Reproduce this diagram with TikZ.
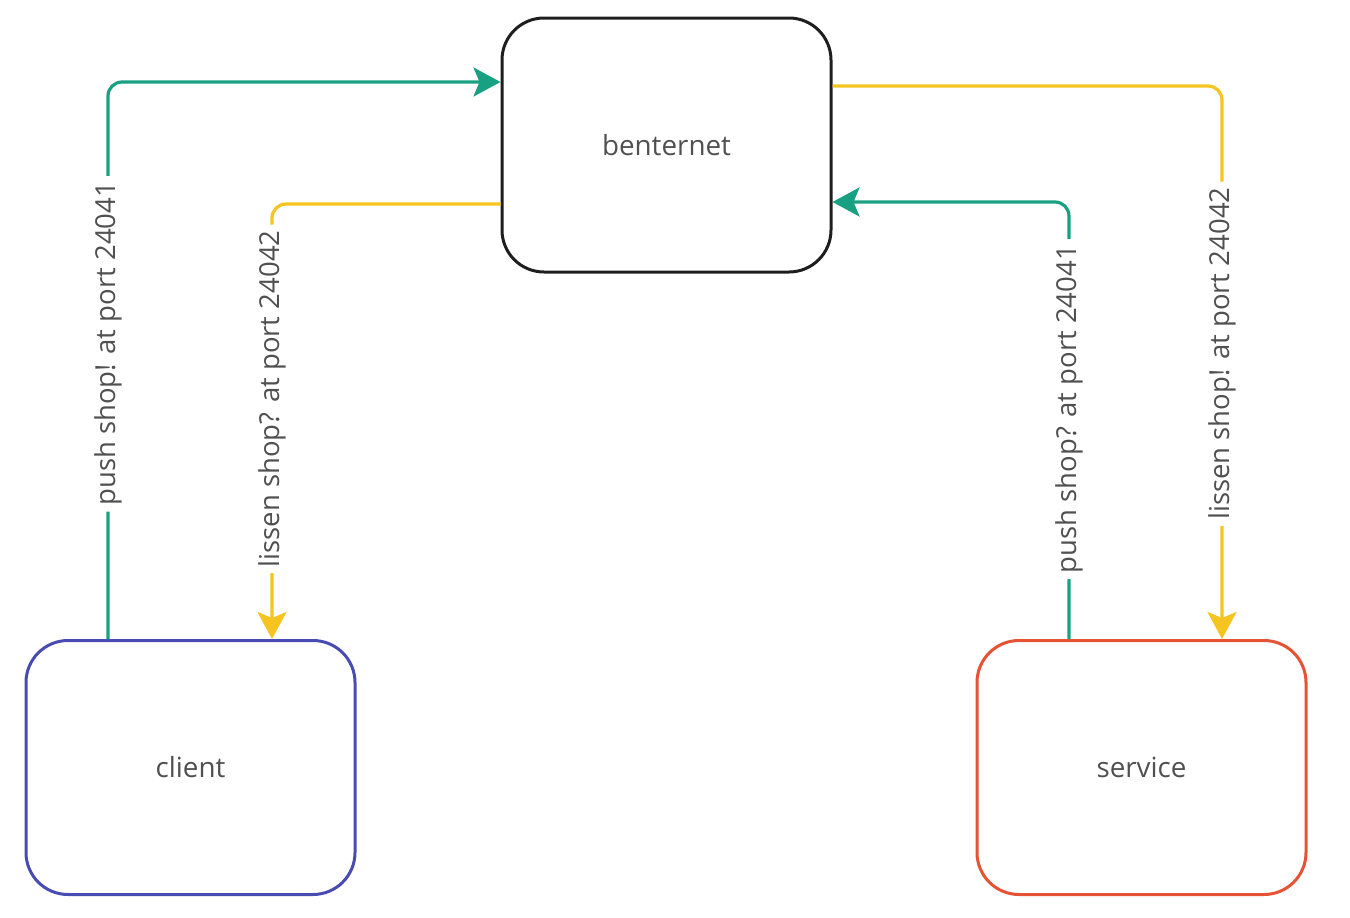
\documentclass[tikz,border=0pt]{standalone}
\usepackage{fontspec}
\setmainfont{Open Sans}
\usetikzlibrary{arrows.meta}
\definecolor{flowgreen}{RGB}{24,160,130}
\definecolor{flowyellow}{RGB}{246,196,32}
\definecolor{clientblue}{RGB}{72,76,178}
\definecolor{servicered}{RGB}{230,82,52}
\definecolor{hubblack}{RGB}{30,30,30}
\definecolor{labelgray}{RGB}{80,80,80}
\begin{document}
\begin{tikzpicture}[x=1pt,y=-1pt,
  box/.style={draw, line width=3pt, rounded corners=42pt, minimum width=329pt,
    minimum height=254pt, font=\fontsize{27.8}{32}\selectfont, text=labelgray, inner sep=0pt},
  wire/.style={line width=3.2pt, rounded corners=14pt},
  tip/.style={-{Stealth[length=27pt,width=29pt,inset=6pt]}},
  tag/.style={fill=white, rotate=90, font=\fontsize{27.5}{32}\selectfont,
    text=labelgray, inner sep=6pt}]

\useasboundingbox (0,0) rectangle (1350,918);

% the three parties
\node[box, draw=hubblack] (hub) at (666.5,145) {benternet};
\node[box, draw=clientblue] (client) at (190.5,767.5) {client};
\node[box, draw=servicered] (service) at (1141.5,767.5) {service};

% client side
\draw[wire, flowgreen, tip] ([xshift=-82.5pt]client.north) |- ([yshift=63pt]hub.west)
  node[tag, pos=0.265] {push shop! at port 24041};
\draw[wire, flowyellow, tip] ([yshift=-59pt]hub.west) -| ([xshift=81.5pt]client.north)
  node[tag, pos=0.724] {lissen shop? at port 24042};

% service side
\draw[wire, flowyellow, tip] ([yshift=59pt]hub.east) -| ([xshift=80.5pt]service.north)
  node[tag, pos=0.742] {lissen shop! at port 24042};
\draw[wire, flowgreen, tip] ([xshift=-72.5pt]service.north) |- ([yshift=-57pt]hub.east)
  node[tag, pos=0.263] {push shop? at port 24041};
\end{tikzpicture}
\end{document}
